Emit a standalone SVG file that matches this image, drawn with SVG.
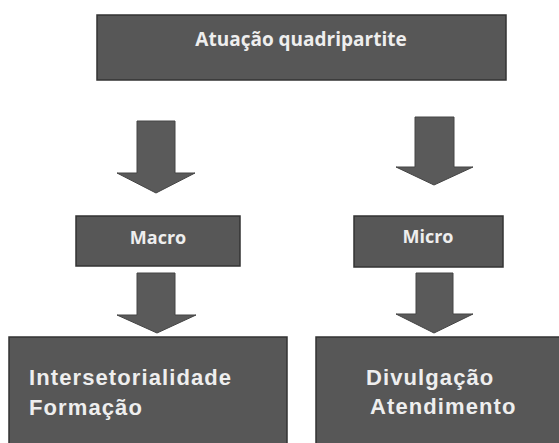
<svg xmlns="http://www.w3.org/2000/svg" width="559" height="443" viewBox="0 0 559 443">
<style>
.box{fill:#575757;stroke:#333;stroke-width:1.5}
.arrow{fill:#5a5a5a;stroke:#444;stroke-width:1}
.t1{font-family:"Open Sans","DejaVu Sans",sans-serif;font-weight:bold;fill:#eeeeee;text-anchor:middle}
.t2{font-family:"Liberation Sans",Arial,sans-serif;font-weight:bold;fill:#eeeeee;font-size:22px;letter-spacing:1.1px}
</style>
<rect width="559" height="443" fill="#ffffff"/>
<g id="connectors">
<polygon class="arrow" points="137,121 175,121 175,173 195,173 156,193 117,173 137,173"/>
<polygon class="arrow" points="415,117 454,117 454,167 473,167 434,185 396,167 415,167"/>
<polygon class="arrow" points="137,273 175,273 175,315 196,315 157,333 117,315 137,315"/>
<polygon class="arrow" points="416,273 453,273 453,314 473,314 434,333 396,314 416,314"/>
</g>
<g id="top">
<rect class="box" x="97" y="15" width="409" height="65"/>
<text class="t1" x="301" y="46" font-size="19">Atuação quadripartite</text>
</g>
<g id="macro">
<rect class="box" x="76" y="216" width="164" height="50"/>
<text class="t1" x="158" y="244" font-size="18">Macro</text>
</g>
<g id="micro">
<rect class="box" x="354" y="216" width="149" height="51"/>
<text class="t1" x="428" y="243" font-size="18">Micro</text>
</g>
<g id="left-result">
<rect class="box" x="9" y="337" width="278" height="110"/>
<text class="t2" x="29" y="385">Intersetorialidade</text>
<text class="t2" x="29" y="415">Formação</text>
</g>
<g id="right-result">
<rect class="box" x="316" y="337" width="250" height="110"/>
<text class="t2" x="366" y="385">Divulgação</text>
<text class="t2" x="370" y="414">Atendimento</text>
</g>
</svg>
